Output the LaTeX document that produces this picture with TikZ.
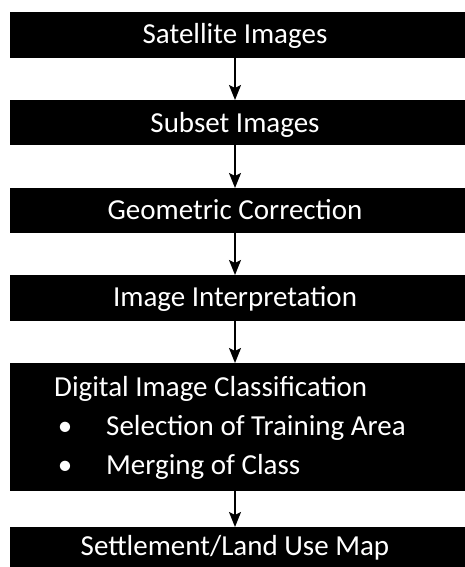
\documentclass[tikz,border=0pt]{standalone}
\usepackage{fontspec}
\setmainfont{Carlito}
\usetikzlibrary{arrows.meta}
\begin{document}
\begin{tikzpicture}[x=1pt,y=-1pt,
  box/.style={fill=black, draw=none, inner sep=0pt, outer sep=0pt, anchor=north west, minimum width=460pt},
  lbl/.style={text=white, font=\fontsize{29}{35}\selectfont, inner sep=0pt, anchor=base},
  lbll/.style={lbl, anchor=base west},
  arr/.style={-{Stealth[length=15pt,width=12pt,inset=3pt]}, line width=1.6pt}]
\useasboundingbox (0,0) rectangle (464,567);
\node[box, minimum height=46pt] (b1) at (10,12) {};
\node[box, minimum height=45pt] (b2) at (10,100) {};
\node[box, minimum height=45pt] (b3) at (10,188) {};
\node[box, minimum height=46pt] (b4) at (10,275) {};
\node[box, minimum height=128pt] (b5) at (10,363) {};
\node[box, minimum height=46pt] (b6) at (10,527) {};
\node[lbl] (t1) at (235,44) {Satellite Images};
\node[lbl] (t2) at (235,132) {Subset Images};
\node[lbl] (t3) at (235,219) {Geometric Correction};
\node[lbl] (t4) at (235,306) {Image Interpretation};
\node[lbll] (t5) at (54,396) {Digital Image Classification};
\node[lbl] (d1) at (65,435) {•};
\node[lbll] (t5a) at (106,435) {Selection of Training Area};
\node[lbl] (d2) at (65,474) {•};
\node[lbll] (t5b) at (106,474) {Merging of Class};
\node[lbl] (t6) at (235,555) {Settlement/Land Use Map};
\draw[arr] (b1.south -| t1) -- (b2.north -| t1);
\draw[arr] (b2.south -| t1) -- (b3.north -| t1);
\draw[arr] (b3.south -| t1) -- (b4.north -| t1);
\draw[arr] (b4.south -| t1) -- (b5.north -| t1);
\draw[arr] (b5.south -| t1) -- (b6.north -| t1);
\end{tikzpicture}
\end{document}
